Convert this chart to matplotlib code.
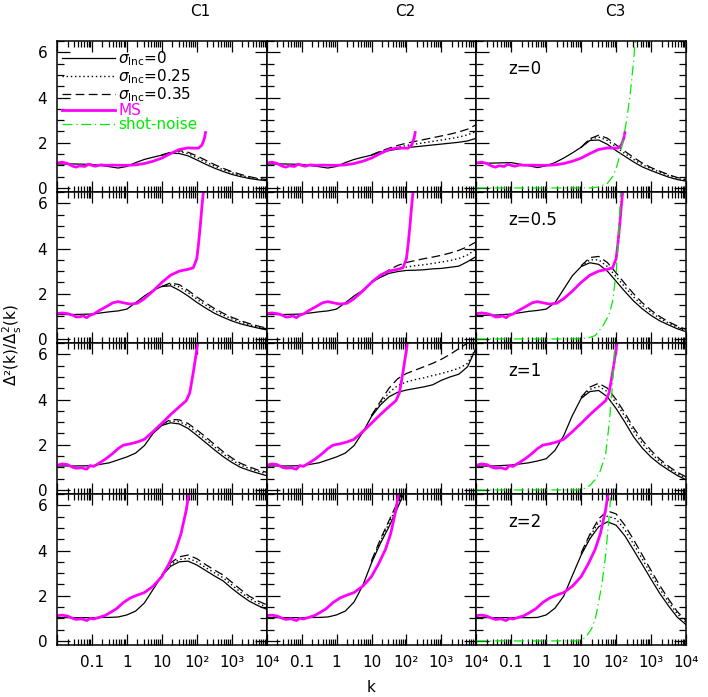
import numpy as np
import matplotlib
matplotlib.use("Agg")
import matplotlib.pyplot as plt
from matplotlib.lines import Line2D
from matplotlib.ticker import FixedLocator, MultipleLocator, NullFormatter

# ---------------- data (log10 k grids and ratio values) ----------------
LK_GRID = [-2, -1.5, -1, -0.5, -0.25, 0, 0.25, 0.5, 0.75, 1, 1.25, 1.5, 1.75,
           2, 2.25, 2.5, 2.75, 3, 3.25, 3.5, 3.75, 4]
LK_HI = [1, 1.25, 1.5, 1.75, 2, 2.25, 2.5, 2.75, 3, 3.25, 3.5, 3.75, 4]

COLUMNS = ["C1", "C2", "C3"]
REDSHIFTS = ["z=0", "z=0.5", "z=1", "z=2"]
SIGMA_LABELS = [r"$\sigma_{\rm Inc}$=0", r"$\sigma_{\rm Inc}$=0.25", r"$\sigma_{\rm Inc}$=0.35"]

# z = 0
Z0_C1_SOLID = [1.06, 1.06, 1.04, 0.94, 0.88, 0.95, 1.12, 1.26, 1.36, 1.45, 1.54, 1.52, 1.42,
               1.24, 1.05, 0.88, 0.73, 0.60, 0.50, 0.42, 0.36, 0.32]
Z0_C1_DOT = [1.46, 1.56, 1.60, 1.52, 1.34, 1.15, 0.97, 0.81, 0.67, 0.56, 0.47, 0.40, 0.35]
Z0_C1_DASH = [1.46, 1.58, 1.65, 1.58, 1.42, 1.23, 1.04, 0.87, 0.72, 0.60, 0.50, 0.42, 0.37]
Z0_C2_SOLID = [1.06, 1.06, 1.04, 0.94, 0.88, 0.95, 1.12, 1.26, 1.36, 1.45, 1.58, 1.65, 1.72,
               1.78, 1.82, 1.86, 1.90, 1.94, 1.98, 2.02, 2.08, 2.20]
Z0_C2_DOT = [1.46, 1.60, 1.70, 1.80, 1.88, 1.94, 2.00, 2.06, 2.12, 2.18, 2.25, 2.35, 2.50]
Z0_C2_DASH = [1.46, 1.62, 1.76, 1.88, 1.98, 2.06, 2.14, 2.22, 2.30, 2.38, 2.48, 2.60, 2.80]
Z0_C3_SOLID = [1.08, 1.10, 1.12, 0.98, 0.90, 0.98, 1.12, 1.32, 1.55, 1.80, 2.10, 2.12, 1.93,
               1.65, 1.40, 1.15, 0.93, 0.77, 0.62, 0.48, 0.37, 0.30]
Z0_C3_DOT = [1.80, 2.15, 2.25, 2.10, 1.80, 1.52, 1.26, 1.03, 0.85, 0.70, 0.55, 0.42, 0.34]
Z0_C3_DASH = [1.80, 2.18, 2.33, 2.20, 1.90, 1.62, 1.35, 1.10, 0.90, 0.74, 0.59, 0.46, 0.37]

# z = 0.5
Z05_C1_SOLID = [1.08, 1.08, 1.10, 1.20, 1.24, 1.32, 1.60, 1.90, 2.15, 2.32, 2.35, 2.15, 1.90,
                1.62, 1.37, 1.14, 0.96, 0.80, 0.67, 0.57, 0.48, 0.40]
Z05_C1_DOT = [2.32, 2.42, 2.30, 2.05, 1.76, 1.50, 1.26, 1.06, 0.89, 0.75, 0.63, 0.53, 0.45]
Z05_C1_DASH = [2.32, 2.48, 2.40, 2.15, 1.86, 1.60, 1.35, 1.14, 0.96, 0.81, 0.68, 0.57, 0.48]
Z05_C2_SOLID = [1.08, 1.08, 1.10, 1.20, 1.24, 1.32, 1.60, 1.90, 2.15, 2.50, 2.72, 2.90, 2.98,
                3.03, 3.04, 3.06, 3.10, 3.12, 3.17, 3.22, 3.42, 3.65]
Z05_C2_DOT = [2.52, 2.76, 2.96, 3.10, 3.18, 3.24, 3.28, 3.34, 3.40, 3.47, 3.56, 3.72, 3.98]
Z05_C2_DASH = [2.54, 2.80, 3.05, 3.25, 3.38, 3.47, 3.55, 3.62, 3.70, 3.80, 3.92, 4.08, 4.30]
Z05_C3_SOLID = [1.04, 1.05, 1.10, 1.22, 1.26, 1.32, 1.60, 2.20, 2.80, 3.20, 3.37, 3.30, 3.00,
                2.55, 2.10, 1.68, 1.33, 1.04, 0.80, 0.62, 0.45, 0.32]
Z05_C3_DOT = [3.22, 3.50, 3.50, 3.20, 2.76, 2.30, 1.86, 1.48, 1.17, 0.91, 0.70, 0.52, 0.38]
Z05_C3_DASH = [3.24, 3.60, 3.65, 3.38, 2.92, 2.45, 2.00, 1.60, 1.27, 0.99, 0.76, 0.57, 0.42]

# z = 1
Z1_C1_SOLID = [1.06, 1.06, 1.07, 1.20, 1.33, 1.46, 1.63, 1.96, 2.50, 2.85, 2.97, 2.92, 2.72,
               2.42, 2.10, 1.78, 1.48, 1.22, 1.00, 0.86, 0.74, 0.63]
Z1_C1_DOT = [2.87, 3.05, 3.02, 2.84, 2.55, 2.24, 1.91, 1.60, 1.33, 1.10, 0.95, 0.82, 0.72]
Z1_C1_DASH = [2.89, 3.12, 3.10, 2.94, 2.66, 2.35, 2.02, 1.70, 1.42, 1.18, 1.02, 0.88, 0.78]
Z1_C2_SOLID = [1.06, 1.06, 1.07, 1.20, 1.33, 1.46, 1.63, 1.96, 2.55, 3.25, 3.75, 4.12, 4.32,
               4.42, 4.49, 4.56, 4.65, 4.85, 5.00, 5.12, 5.45, 6.30]
Z1_C2_DOT = [3.28, 3.82, 4.30, 4.62, 4.78, 4.88, 4.96, 5.06, 5.15, 5.26, 5.38, 5.60, 6.30]
Z1_C2_DASH = [3.30, 3.90, 4.50, 4.92, 5.15, 5.30, 5.45, 5.60, 5.78, 6.00, 6.25, 6.50, 6.80]
Z1_C3_SOLID = [1.05, 1.06, 1.10, 1.20, 1.28, 1.38, 1.75, 2.40, 3.30, 4.05, 4.35, 4.40, 4.12,
               3.60, 3.00, 2.35, 1.85, 1.45, 1.14, 0.88, 0.64, 0.45]
Z1_C3_DOT = [4.08, 4.45, 4.58, 4.35, 3.85, 3.25, 2.60, 2.06, 1.62, 1.26, 0.97, 0.71, 0.52]
Z1_C3_DASH = [4.10, 4.55, 4.72, 4.50, 4.00, 3.40, 2.75, 2.20, 1.75, 1.36, 1.05, 0.78, 0.58]

# z = 2
Z2_C1_SOLID = [1.03, 1.03, 1.03, 1.04, 1.06, 1.15, 1.32, 1.68, 2.28, 2.88, 3.30, 3.50, 3.53,
               3.36, 3.12, 2.88, 2.66, 2.33, 2.03, 1.76, 1.56, 1.40]
Z2_C1_DOT = [2.90, 3.38, 3.60, 3.66, 3.50, 3.25, 3.02, 2.80, 2.48, 2.16, 1.88, 1.67, 1.50]
Z2_C1_DASH = [2.92, 3.45, 3.72, 3.80, 3.64, 3.38, 3.14, 2.92, 2.60, 2.28, 1.98, 1.77, 1.60]
Z2_C2_SOLID = [1.03, 1.03, 1.03, 1.04, 1.06, 1.15, 1.32, 1.72, 2.45, 3.45, 4.30, 5.05, 5.90, 6.80]
Z2_C2_DOT = [3.50, 4.40, 5.20, 6.05, 6.90]
Z2_C2_DASH = [3.55, 4.48, 5.32, 6.15, 7.00]
Z2_C3_SOLID = [1.03, 1.03, 1.03, 1.03, 1.04, 1.15, 1.45, 1.98, 2.90, 3.80, 4.52, 5.05, 5.27,
               5.12, 4.65, 4.02, 3.38, 2.73, 2.10, 1.55, 1.05, 0.72]
Z2_C3_DOT = [3.85, 4.62, 5.25, 5.52, 5.40, 4.92, 4.28, 3.62, 2.95, 2.30, 1.72, 1.20, 0.82]
Z2_C3_DASH = [3.90, 4.72, 5.40, 5.75, 5.62, 5.12, 4.48, 3.80, 3.12, 2.45, 1.85, 1.30, 0.90]

# Millennium Simulation (MS) curves, one per redshift
MS_Z0_LK = [-2, -1.85, -1.7, -1.55, -1.45, -1.35, -1.2, -1.1, -1.0, -0.9, -0.75, -0.6, -0.4,
            -0.2, 0, 0.25, 0.5, 0.75, 1.0, 1.25, 1.5, 1.75, 1.9, 2.05, 2.15, 2.22, 2.25]
MS_Z0_VAL = [1.10, 1.14, 1.08, 0.96, 0.92, 0.98, 0.95, 1.05, 1.00, 0.96, 1.02, 1.00, 1.01,
             1.00, 1.00, 1.02, 1.08, 1.18, 1.32, 1.52, 1.70, 1.77, 1.76, 1.76, 1.90, 2.20, 2.45]
MS_Z05_LK = [-2, -1.85, -1.7, -1.55, -1.45, -1.35, -1.25, -1.15, -1.05, -0.95, -0.8, -0.6,
             -0.4, -0.25, -0.1, 0.1, 0.3, 0.5, 0.75, 1.0, 1.25, 1.5, 1.75, 1.9, 2.0, 2.05,
             2.1, 2.15, 2.2]
MS_Z05_VAL = [1.12, 1.15, 1.12, 1.05, 0.97, 0.98, 1.02, 0.94, 1.05, 1.10, 1.25, 1.42,
              1.60, 1.65, 1.60, 1.54, 1.58, 1.78, 2.12, 2.50, 2.82, 3.00, 3.08, 3.15, 3.55,
              4.20, 5.00, 5.90, 6.70]
MS_Z1_LK = [-2, -1.85, -1.7, -1.55, -1.45, -1.3, -1.15, -1.05, -0.95, -0.8, -0.6, -0.4,
            -0.25, -0.1, 0.1, 0.3, 0.5, 0.75, 1.0, 1.25, 1.5, 1.7, 1.8, 1.9, 2.0, 2.05]
MS_Z1_VAL = [1.09, 1.15, 1.12, 1.00, 0.96, 0.98, 0.92, 1.08, 1.04, 1.18, 1.38, 1.62,
             1.83, 1.98, 2.04, 2.12, 2.24, 2.58, 2.95, 3.33, 3.68, 3.95, 4.30, 5.20, 6.20, 6.80]
MS_Z2_LK = [-2, -1.85, -1.7, -1.55, -1.45, -1.3, -1.15, -1.05, -0.95, -0.8, -0.63, -0.45,
            -0.3, -0.1, 0.1, 0.25, 0.5, 0.75, 1.0, 1.2, 1.4, 1.55, 1.7, 1.8]
MS_Z2_VAL = [1.12, 1.14, 1.10, 1.00, 0.95, 0.98, 0.90, 1.00, 0.97, 1.04, 1.12, 1.28,
             1.42, 1.70, 1.90, 2.00, 2.14, 2.42, 2.85, 3.40, 4.05, 4.75, 5.80, 6.80]

# shot-noise curves (C3 column only)
SN_Z0_LK = [-2, 1.25, 1.5, 1.75, 1.9, 2.0, 2.1, 2.2, 2.3, 2.4, 2.5, 2.55]
SN_Z0_VAL = [0, 0, 0.04, 0.20, 0.50, 0.85, 1.40, 2.10, 3.00, 4.10, 5.60, 6.60]
SN_Z05_LK = [-2, 0.9, 1.2, 1.4, 1.6, 1.8, 1.9, 2.0, 2.05, 2.1, 2.13]
SN_Z05_VAL = [0, 0, 0.04, 0.15, 0.52, 1.08, 1.67, 2.90, 4.00, 5.40, 6.60]
SN_Z1_LK = [-2, 0.9, 1.1, 1.25, 1.4, 1.55, 1.7, 1.8, 1.9, 1.97]
SN_Z1_VAL = [0, 0, 0.07, 0.20, 0.45, 0.85, 1.60, 2.90, 4.70, 6.60]
SN_Z2_LK = [-2, 0.9, 1.05, 1.15, 1.3, 1.4, 1.5, 1.6, 1.7, 1.8, 1.86]
SN_Z2_VAL = [0, 0, 0.08, 0.20, 0.55, 0.95, 1.70, 2.60, 3.80, 5.50, 6.70]

X_TICKS = [1e-2, 1e-1, 1, 10, 1e2, 1e3, 1e4]
X_TICK_LABELS = ["", "0.1", "1", "10", "10²", "10³", "10⁴"]
Y_TICKS = [0, 2, 4, 6]

# ---------------- assemble ----------------
MODELS = [
    [(Z0_C1_SOLID, Z0_C1_DOT, Z0_C1_DASH), (Z0_C2_SOLID, Z0_C2_DOT, Z0_C2_DASH), (Z0_C3_SOLID, Z0_C3_DOT, Z0_C3_DASH)],
    [(Z05_C1_SOLID, Z05_C1_DOT, Z05_C1_DASH), (Z05_C2_SOLID, Z05_C2_DOT, Z05_C2_DASH), (Z05_C3_SOLID, Z05_C3_DOT, Z05_C3_DASH)],
    [(Z1_C1_SOLID, Z1_C1_DOT, Z1_C1_DASH), (Z1_C2_SOLID, Z1_C2_DOT, Z1_C2_DASH), (Z1_C3_SOLID, Z1_C3_DOT, Z1_C3_DASH)],
    [(Z2_C1_SOLID, Z2_C1_DOT, Z2_C1_DASH), (Z2_C2_SOLID, Z2_C2_DOT, Z2_C2_DASH), (Z2_C3_SOLID, Z2_C3_DOT, Z2_C3_DASH)],
]
MS = [(MS_Z0_LK, MS_Z0_VAL), (MS_Z05_LK, MS_Z05_VAL), (MS_Z1_LK, MS_Z1_VAL), (MS_Z2_LK, MS_Z2_VAL)]
SN = [(SN_Z0_LK, SN_Z0_VAL), (SN_Z05_LK, SN_Z05_VAL), (SN_Z1_LK, SN_Z1_VAL), (SN_Z2_LK, SN_Z2_VAL)]

MAGENTA = "#ff00ff"
GREEN = "#00ee00"
STYLES = ["-", (0, (1, 2)), (0, (7, 3.5))]
DASHDOT = (0, (8, 3, 1, 3))

plt.rcParams["font.family"] = ["DejaVu Sans"]
fig, axes = plt.subplots(4, 3, figsize=(7.08, 6.97), dpi=100, sharex=True, sharey=True)
fig.subplots_adjust(left=57 / 708, right=686 / 708, top=1 - 41 / 697, bottom=1 - 645 / 697,
                    wspace=0, hspace=0)

for r in range(4):
    for c in range(3):
        ax = axes[r, c]
        solid, dot, dash = MODELS[r][c]
        ax.plot(10 ** np.array(LK_GRID[:len(solid)]), solid, color="k", lw=0.9, ls=STYLES[0])
        ax.plot(10 ** np.array(LK_HI[:len(dot)]), dot, color="k", lw=1.0, ls=STYLES[1])
        ax.plot(10 ** np.array(LK_HI[:len(dash)]), dash, color="k", lw=0.9, ls=STYLES[2])
        mlk, mval = MS[r]
        ax.plot(10 ** np.array(mlk), mval, color=MAGENTA, lw=2.0, solid_joinstyle="round")
        if c == 2:
            slk, sval = SN[r]
            ax.plot(10 ** np.array(slk), sval, color=GREEN, lw=0.9, ls=DASHDOT)
            ax.text(0.15, 0.815, REDSHIFTS[r], transform=ax.transAxes, fontsize=12,
                    va="center", ha="left")
        ax.set_xscale("log")
        ax.set_xlim(1e-2, 1e4)
        ax.set_ylim(-0.18, 6.5)
        ax.xaxis.set_major_locator(FixedLocator(X_TICKS))
        ax.xaxis.set_minor_locator(FixedLocator(
            [m * 10.0 ** e for e in range(-2, 4) for m in range(2, 10)]))
        ax.xaxis.set_minor_formatter(NullFormatter())
        ax.yaxis.set_major_locator(MultipleLocator(2))
        ax.yaxis.set_minor_locator(MultipleLocator(0.5))
        ax.tick_params(which="both", direction="in", top=True, right=True, width=0.9)
        ax.tick_params(axis="x", which="major", length=8)
        ax.tick_params(axis="x", which="minor", length=4.5)
        ax.tick_params(axis="y", which="major", length=9)
        ax.tick_params(axis="y", which="minor", length=5)
        ax.tick_params(labelsize=11, pad=7)
        for sp in ax.spines.values():
            sp.set_linewidth(1.1)
        if r == 3:
            ax.set_xticklabels(X_TICK_LABELS)
        if c == 0:
            ax.set_yticks(Y_TICKS)
            ax.set_yticklabels([str(v) for v in Y_TICKS])

# legend in top-left panel
handles = [Line2D([], [], color="k", lw=0.9, ls=STYLES[0]),
           Line2D([], [], color="k", lw=1.0, ls=STYLES[1]),
           Line2D([], [], color="k", lw=0.9, ls=STYLES[2]),
           Line2D([], [], color=MAGENTA, lw=2.0),
           Line2D([], [], color=GREEN, lw=0.9, ls=DASHDOT)]
labels = SIGMA_LABELS + ["MS", "shot-noise"]
axes[0, 0].legend(handles, labels, loc="upper left", bbox_to_anchor=(0.0, 0.975),
                  frameon=False, fontsize=11, handlelength=3.5, handletextpad=0.2,
                  labelspacing=-0.05, borderpad=0.2, borderaxespad=0.1,
                  labelcolor=["k", "k", "k", MAGENTA, GREEN])

# column titles
for name, xpx in zip(COLUMNS, [200, 405, 615]):
    fig.text(xpx / 708, 1 - 12 / 697, name, ha="center", va="center", fontsize=11)

fig.text(12 / 708, 0.505, "Δ²(k)/Δ$^2_{\\rm s}$(k)", rotation=90, ha="center", va="center",
         fontsize=11)
fig.text(371 / 708, 1 - 688 / 697, "k", ha="center", va="center", fontsize=11)

fig.savefig("out.png", dpi=100)
